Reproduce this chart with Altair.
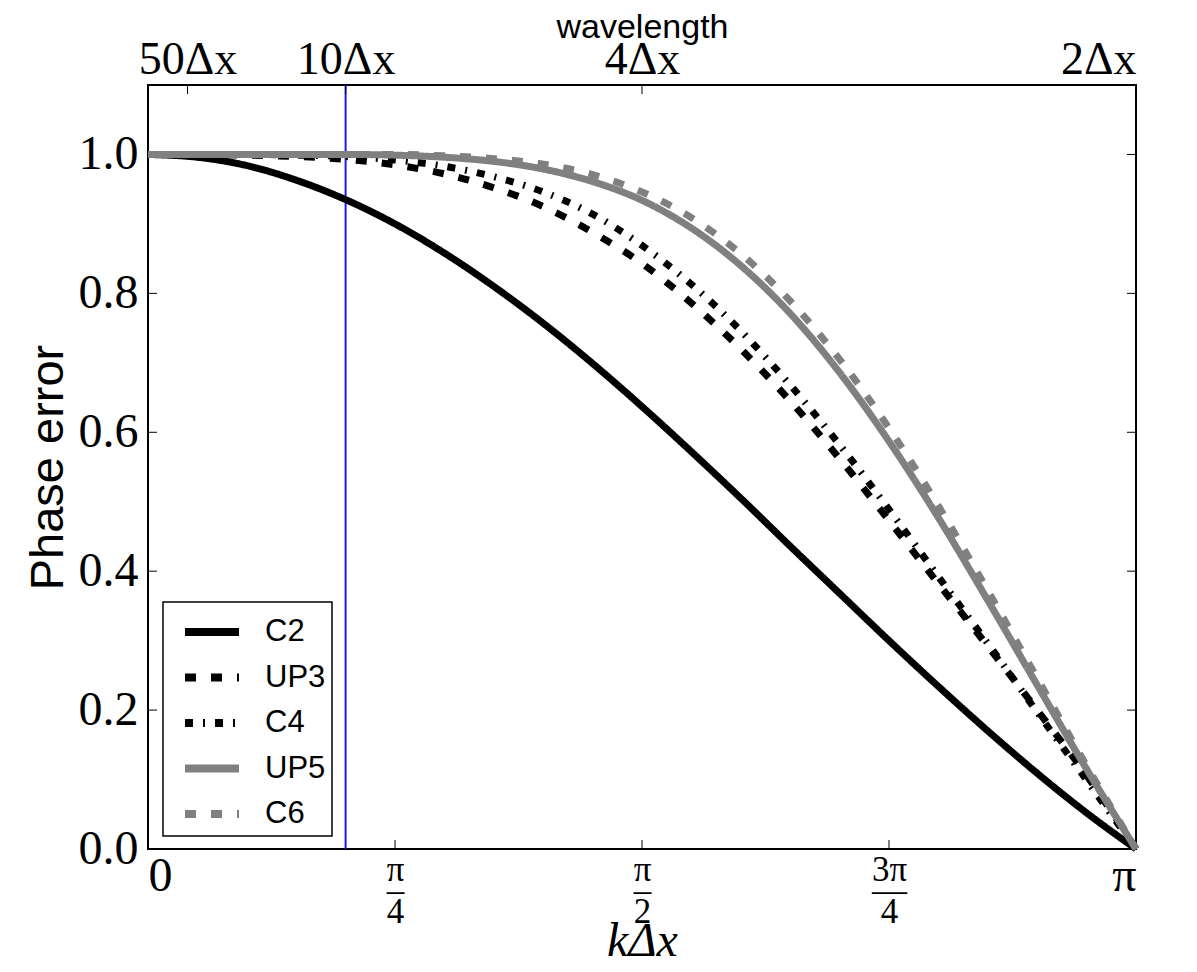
import math
import altair as alt
import pandas as pd

PI = math.pi

# x positions as fractions of pi (k*dx / pi)
k_over_pi = [0.00, 0.05, 0.10, 0.15, 0.20, 0.25, 0.30, 0.35, 0.40, 0.45, 0.50,
             0.55, 0.60, 0.65, 0.70, 0.75, 0.80, 0.85, 0.90, 0.95, 1.00]

c2 = [1.000, 0.996, 0.984, 0.963, 0.935, 0.900, 0.858, 0.810, 0.757, 0.699, 0.637,
      0.572, 0.505, 0.436, 0.368, 0.300, 0.234, 0.170, 0.109, 0.052, 0.000]
up3 = [1.000, 1.000, 0.999, 0.997, 0.993, 0.985, 0.972, 0.952, 0.925, 0.888, 0.843,
       0.786, 0.720, 0.645, 0.562, 0.473, 0.382, 0.292, 0.200, 0.106, 0.000]
c4 = [1.000, 1.000, 1.000, 0.999, 0.997, 0.992, 0.983, 0.968, 0.946, 0.914, 0.869,
      0.813, 0.746, 0.668, 0.582, 0.489, 0.392, 0.296, 0.197, 0.099, 0.000]
up5 = [1.000, 1.000, 1.000, 1.000, 1.000, 0.999, 0.996, 0.990, 0.979, 0.961, 0.934,
       0.894, 0.840, 0.771, 0.686, 0.587, 0.477, 0.358, 0.236, 0.115, 0.000]
c6 = [1.000, 1.000, 1.000, 1.000, 1.000, 1.000, 0.998, 0.994, 0.986, 0.971, 0.946,
      0.909, 0.857, 0.789, 0.705, 0.606, 0.494, 0.372, 0.246, 0.120, 0.000]

series_names = ["C2", "UP3", "C4", "UP5", "C6"]
series_values = [c2, up3, c4, up5, c6]
series_colors = ["#000000", "#000000", "#000000", "#808080", "#808080"]
series_dashes = [[1, 0], [11, 15], [8, 10, 2, 10], [1, 0], [11, 15]]

y_tick_values = [0.0, 0.2, 0.4, 0.6, 0.8, 1.0]
x_tick_over_pi = [0.0, 0.25, 0.5, 0.75, 1.0]
wavelengths = [50, 10, 4, 2]          # in units of dx
marker_wavelength = 10                # blue vertical line

rows = []
for name, vals in zip(series_names, series_values):
    for f, v in zip(k_over_pi, vals):
        rows.append({"k": f * PI, "v": v, "series": name})
df = pd.DataFrame(rows)

W, H = 988, 764
xs = alt.Scale(domain=[0, PI], nice=False, zero=False)
ys = alt.Scale(domain=[0, 1.1], nice=False, zero=False)

base = alt.Chart(df).mark_line(strokeWidth=7, interpolate="monotone").encode(
    x=alt.X("k:Q", scale=xs, axis=None),
    y=alt.Y("v:Q", scale=ys, axis=None),
    color=alt.Color("series:N",
                    scale=alt.Scale(domain=series_names, range=series_colors),
                    sort=series_names, legend=alt.Legend(title=None)),
    strokeDash=alt.StrokeDash("series:N",
                              scale=alt.Scale(domain=series_names, range=series_dashes),
                              sort=series_names, legend=alt.Legend(title=None)),
)
line_layers = [base.transform_filter(alt.datum.series == s) for s in series_names]

blue = alt.Chart(pd.DataFrame({"k": [2 * PI / marker_wavelength]})).mark_rule(
    color="#1a1aff", strokeWidth=2).encode(x=alt.X("k:Q", scale=xs, axis=None))

ydf = pd.DataFrame({"y": y_tick_values})
left_ticks = alt.Chart(ydf).mark_rule(color="black", strokeWidth=1).encode(
    y=alt.Y("y:Q", scale=ys, axis=alt.Axis(
        values=y_tick_values, format=".1f", ticks=False, domain=False, grid=False,
        labelFont="Liberation Serif", labelFontSize=48, labelColor="black", labelPadding=10,
        title="Phase error", titleFont="Liberation Sans", titleFontSize=47,
        titleFontWeight="normal", titleColor="black", titlePadding=6)),
    x=alt.value(0), x2=alt.value(9))
right_ticks = alt.Chart(ydf).mark_rule(color="black", strokeWidth=1).encode(
    y=alt.Y("y:Q", scale=ys, axis=None), x=alt.value(W - 9), x2=alt.value(W))

xdf = pd.DataFrame({"k": [f * PI for f in x_tick_over_pi]})
bottom_label_expr = ("datum.value < 0.1 ? '0' : datum.value > 3.1 ? 'π' : "
                     "datum.value < 1 ? ['π', '–', '4'] : datum.value < 2 ? ['π', '–', '2'] : "
                     "['3π', '—', '4']")
bottom_ticks = alt.Chart(xdf).mark_rule(color="black", strokeWidth=1).encode(
    x=alt.X("k:Q", scale=xs, axis=alt.Axis(
        orient="bottom", values=[f * PI for f in x_tick_over_pi], labelExpr=bottom_label_expr,
        ticks=False, domain=False, grid=False, labelFont="Liberation Serif",
        labelFontSize={"condition": {"test": "datum.value < 0.1 || datum.value > 3.1", "value": 48},
                       "value": 35},
        labelLineHeight=21, labelColor="black", labelPadding=3, labelBaseline="top",
        title="kΔx", titleFont="Liberation Serif", titleFontStyle="italic", titleFontSize=48,
        titleFontWeight="normal", titleColor="black", titleY=106, titleBaseline="alphabetic")),
    y=alt.value(H - 9), y2=alt.value(H))

wdf = pd.DataFrame({"k": [2 * PI / w for w in wavelengths]})
top_label_expr = ("datum.value < 0.2 ? '50Δx' : datum.value < 1 ? '10Δx' : "
                  "datum.value < 2 ? '4Δx' : '2Δx'")
top_ticks = alt.Chart(wdf).mark_rule(color="black", strokeWidth=1).encode(
    x=alt.X("k:Q", scale=xs, axis=alt.Axis(
        orient="top", values=[2 * PI / w for w in wavelengths], labelExpr=top_label_expr,
        ticks=False, domain=False, grid=False, labelFont="Liberation Serif", labelFontSize=46,
        labelColor="black", labelPadding=2, labelOverlap=False,
        title="wavelength", titleFont="Liberation Sans", titleFontSize=34,
        titleFontWeight="normal", titleColor="black", titleY=-48, titleBaseline="alphabetic")),
    y=alt.value(0), y2=alt.value(9))

chart = alt.layer(
    blue, left_ticks, right_ticks, bottom_ticks, top_ticks, *line_layers
).resolve_axis(x="independent", y="independent").properties(
    width=W, height=H,
    autosize=alt.AutoSizeParams(type="none"),
    padding={"left": 140, "top": 77, "right": 40, "bottom": 115},
).configure_view(stroke="black", strokeWidth=2).configure_legend(
    orient="none", legendX=15, legendY=517, padding=6,
    strokeColor="black", strokeWidth=1.5, fillColor="white",
    labelFont="Liberation Sans", labelFontSize=31, labelColor="black",
    symbolType="M-1.35,0H1.35", symbolSize=1600, symbolStrokeWidth=8,
    symbolOffset=19, labelOffset=29, rowPadding=5.5,
)

chart.save("out.html", embed_options={"renderer": "svg", "actions": False})
